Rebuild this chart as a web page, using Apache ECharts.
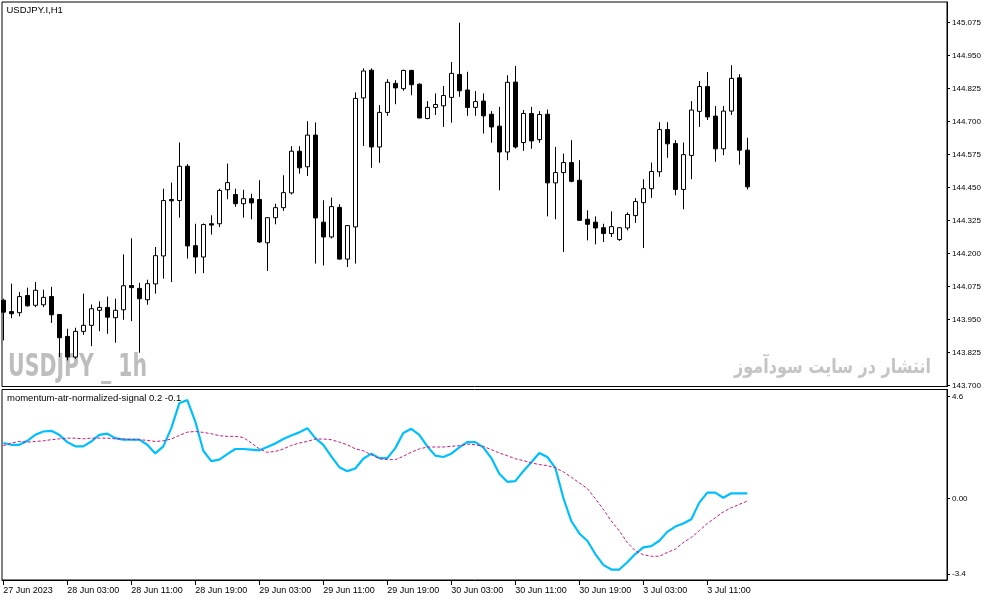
<!DOCTYPE html>
<html>
<head>
<meta charset="utf-8">
<script src="https://cdn.jsdelivr.net/npm/echarts@6.0.0/dist/echarts.min.js"></script>
<style>
html, body { margin: 0; padding: 0; background: #fff; }
#chart { width: 993px; height: 601px; }
</style>
</head>
<body>
<div id="chart"></div>
<script>
// USDJPY.I H1 candles, index 0 = 27 Jun 2023 19:00
var openP = [144.023,143.980,143.976,144.041,144.004,144.006,144.037,143.969,143.886,143.808,
	143.905,143.928,143.985,143.996,143.957,143.987,144.079,144.068,144.025,144.085,
	144.191,144.405,144.401,144.531,144.230,144.187,144.313,144.313,144.442,144.424,
	144.389,144.408,144.405,144.241,144.336,144.374,144.430,144.588,144.529,144.649,
	144.319,144.263,144.375,144.179,144.301,144.790,144.895,144.604,144.735,144.845,
	144.825,144.894,144.842,144.712,144.754,144.760,144.792,144.879,144.820,144.754,
	144.778,144.728,144.683,144.585,144.850,144.621,144.731,144.632,144.728,144.468,
	144.507,144.545,144.478,144.330,144.319,144.298,144.276,144.253,144.297,144.344,
	144.393,144.446,144.510,144.670,144.617,144.443,144.572,144.739,144.833,144.721,
	144.597,144.740,144.866,144.592];
var closeP = [143.978,143.972,144.037,144.002,144.061,144.034,143.968,143.881,143.808,143.905,
	143.928,143.991,143.996,143.959,143.985,144.078,144.071,144.029,144.086,144.192,
	144.401,144.400,144.531,144.229,144.187,144.310,144.308,144.439,144.469,144.389,
	144.408,144.392,144.244,144.336,144.374,144.431,144.588,144.525,144.649,144.335,
	144.263,144.378,144.179,144.306,144.788,144.892,144.604,144.735,144.849,144.828,
	144.894,144.840,144.714,144.754,144.765,144.799,144.883,144.817,144.754,144.776,
	144.722,144.680,144.585,144.849,144.604,144.731,144.627,144.727,144.468,144.507,
	144.545,144.474,144.326,144.311,144.297,144.276,144.302,144.298,144.348,144.397,
	144.446,144.511,144.670,144.616,144.443,144.575,144.744,144.833,144.718,144.597,
	144.740,144.864,144.592,144.453];
var lowP = [143.871,143.955,143.962,143.999,143.997,143.997,143.937,143.808,143.795,143.801,
	143.892,143.849,143.906,143.896,143.862,143.949,143.944,143.824,144.006,144.048,
	144.105,144.092,144.336,144.181,144.124,144.126,144.272,144.301,144.406,144.377,
	144.336,144.330,144.240,144.134,144.311,144.362,144.424,144.503,144.494,144.162,
	144.155,144.257,144.177,144.149,144.162,144.608,144.525,144.544,144.722,144.766,
	144.817,144.800,144.712,144.709,144.725,144.680,144.696,144.794,144.722,144.722,
	144.655,144.620,144.440,144.554,144.598,144.589,144.597,144.620,144.341,144.330,
	144.206,144.470,144.324,144.250,144.235,144.244,144.263,144.248,144.288,144.316,
	144.221,144.411,144.491,144.563,144.421,144.368,144.482,144.680,144.706,144.548,
	144.573,144.725,144.537,144.443];
var highP = [144.029,144.086,144.054,144.071,144.092,144.063,144.074,143.970,143.915,143.919,
	144.048,144.007,144.019,144.037,144.029,144.197,144.258,144.089,144.101,144.225,
	144.446,144.469,144.621,144.539,144.313,144.314,144.345,144.446,144.541,144.446,
	144.442,144.427,144.478,144.338,144.389,144.497,144.607,144.607,144.702,144.697,
	144.402,144.412,144.387,144.308,144.811,144.902,144.902,144.763,144.861,144.857,
	144.897,144.897,144.845,144.778,144.807,144.835,144.926,145.075,144.889,144.816,
	144.807,144.740,144.756,144.876,144.911,144.744,144.756,144.740,144.746,144.604,
	144.579,144.630,144.554,144.364,144.341,144.313,144.360,144.300,144.356,144.410,
	144.482,144.545,144.698,144.698,144.630,144.621,144.778,144.854,144.888,144.759,
	144.759,144.914,144.880,144.639];

// momentum-atr-normalized-signal (blue) and its signal (dotted)
var momentum = [2.51,2.43,2.43,2.61,2.88,3.03,3.06,2.88,2.55,2.36,
	2.36,2.58,2.88,2.93,2.73,2.66,2.66,2.66,2.43,2.04,
	2.36,3.18,4.30,4.45,3.48,2.16,1.69,1.76,2.01,2.24,
	2.24,2.21,2.18,2.33,2.49,2.69,2.85,2.99,3.18,2.73,
	2.43,1.91,1.42,1.24,1.36,1.80,2.03,1.83,1.83,2.28,
	2.96,3.15,2.88,2.36,1.94,1.88,2.03,2.31,2.55,2.55,
	2.31,1.83,1.12,0.76,0.79,1.24,1.64,2.06,1.88,1.39,
	0.04,-1.01,-1.57,-1.90,-2.50,-2.99,-3.20,-3.20,-2.87,-2.50,
	-2.20,-2.14,-1.90,-1.50,-1.26,-1.12,-0.93,-0.18,0.27,0.27,
	0.04,0.24,0.24,0.24];
var signal = [2.39,2.51,2.58,2.55,2.58,2.61,2.66,2.70,2.73,2.73,
	2.70,2.73,2.73,2.73,2.70,2.69,2.66,2.66,2.63,2.58,
	2.61,2.69,2.85,3.00,3.03,2.99,2.93,2.84,2.81,2.81,
	2.76,2.51,2.25,2.09,2.13,2.24,2.40,2.51,2.58,2.69,
	2.69,2.66,2.55,2.43,2.25,2.16,1.98,1.80,1.76,1.76,
	1.91,2.10,2.24,2.33,2.33,2.33,2.36,2.39,2.46,2.43,
	2.36,2.21,2.06,1.94,1.80,1.72,1.61,1.54,1.49,1.39,
	1.21,0.97,0.71,0.46,0.00,-0.48,-1.01,-1.45,-1.98,-2.35,
	-2.53,-2.60,-2.60,-2.43,-2.28,-1.98,-1.75,-1.45,-1.12,-0.86,
	-0.60,-0.41,-0.26,-0.11];

// x axis labels sit on every 8th bar
var xLabelIdx = [0, 8, 16, 24, 32, 40, 48, 56, 64, 72, 80, 88];
var xLabels = ['27 Jun 2023', '28 Jun 03:00', '28 Jun 11:00', '28 Jun 19:00', '29 Jun 03:00',
	'29 Jun 11:00', '29 Jun 19:00', '30 Jun 03:00', '30 Jun 11:00', '30 Jun 19:00',
	'3 Jul 03:00', '3 Jul 11:00'];
var priceTicks = [143.700, 143.825, 143.950, 144.075, 144.200, 144.325, 144.450,
	144.575, 144.700, 144.825, 144.950, 145.075];
var indTicks = [-3.4, 0, 4.6];
var indTickLabels = ['-3.4', '0.00', '4.6'];

var candles = [];
for (var i = 0; i < openP.length; i++) {
	candles.push([i, openP[i], closeP[i], lowP[i], highP[i]]);
}
var momLine = [], sigLine = [];
for (var j = 0; j < momentum.length; j++) {
	momLine.push([j, momentum[j]]);
	sigLine.push([j, signal[j]]);
}

var labelFont = "'Liberation Sans', Arial, sans-serif";

// 8px per bar, bar 0 centred at x=3.3
var xMin = -0.1625, xMax = -0.1625 + 945 / 8;

var myChart = echarts.init(document.getElementById('chart'), null, { renderer: 'canvas' });
var option = {
	animation: false,
	backgroundColor: '#fff',
	title: [{
		text: 'USDJPY.I,H1',
		left: 6.5, top: 5, padding: 0,
		textStyle: { fontSize: 9.5, fontWeight: 'normal', color: '#000', fontFamily: labelFont }
	}, {
		text: 'momentum-atr-normalized-signal 0.2 -0.1',
		left: 7, top: 393.5, padding: 0,
		textStyle: { fontSize: 9.5, fontWeight: 'normal', color: '#000', fontFamily: labelFont }
	}],
	graphic: [{
		type: 'text', x: 8, y: 368, scaleX: 0.64, silent: true, z: 0,
		style: {
			text: 'USDJPY _ 1h', fill: '#bdbdbd', textVerticalAlign: 'middle',
			fontSize: 32, fontWeight: 'bold', fontFamily: 'DejaVu Sans'
		}
	}, {
		type: 'text', x: 931, y: 368, scaleX: 0.8, silent: true, z: 0,
		style: {
			text: 'انتشار در سایت سودآموز', fill: '#c4c4c4', textAlign: 'right', textVerticalAlign: 'middle',
			fontSize: 20, fontWeight: 'bold', fontFamily: 'DejaVu Sans'
		}
	}],
	grid: [{
		left: 2, top: 2, width: 945, height: 384.5,
		show: true, borderColor: '#000', borderWidth: 1
	}, {
		left: 2, top: 389.5, width: 945, height: 190.5,
		show: true, borderColor: '#000', borderWidth: 1
	}],
	xAxis: [{
		type: 'value', gridIndex: 0, min: xMin, max: xMax,
		axisLine: { show: false, onZero: false }, axisTick: { show: false },
		axisLabel: { show: false }, splitLine: { show: false }
	}, {
		type: 'value', gridIndex: 1, min: xMin, max: xMax, position: 'bottom',
		axisLine: { show: true, onZero: false, lineStyle: { color: '#000', width: 1 } },
		axisTick: { show: true, length: 5, customValues: xLabelIdx, lineStyle: { color: '#000' } },
		axisLabel: {
			show: true, customValues: xLabelIdx, align: 'left', margin: 6,
			fontSize: 9, color: '#000', fontFamily: labelFont,
			formatter: function(v) {
				return xLabels[xLabelIdx.indexOf(Math.round(v))];
			}
		},
		splitLine: { show: false }
	}],
	yAxis: [{
		type: 'value', gridIndex: 0, position: 'right',
		min: 143.6962, max: 145.1535,
		axisLine: { show: true, onZero: false, lineStyle: { color: '#000', width: 1 } },
		axisTick: { show: true, length: 3, customValues: priceTicks, lineStyle: { color: '#000' } },
		axisLabel: {
			customValues: priceTicks, margin: 5, fontSize: 8, color: '#000', fontFamily: labelFont,
			formatter: function(v) { return v.toFixed(3); }
		},
		splitLine: { show: false }
	}, {
		type: 'value', gridIndex: 1, position: 'right',
		min: -3.671, max: 4.925,
		axisLine: { show: true, onZero: false, lineStyle: { color: '#000', width: 1 } },
		axisTick: { show: true, length: 3, customValues: indTicks, lineStyle: { color: '#000' } },
		axisLabel: {
			customValues: indTicks, margin: 5, fontSize: 8, color: '#000', fontFamily: labelFont,
			formatter: function(v) { return indTickLabels[indTicks.indexOf(v)]; }
		},
		splitLine: { show: false }
	}],
	series: [{
		name: 'USDJPY.I', type: 'candlestick',
		xAxisIndex: 0, yAxisIndex: 0,
		barWidth: 4,
		itemStyle: {
			color: '#fff', color0: '#000',
			borderColor: '#000', borderColor0: '#000', borderWidth: 1
		},
		data: candles
	}, {
		name: 'momentum', type: 'line',
		xAxisIndex: 1, yAxisIndex: 1,
		showSymbol: false, symbol: 'none',
		lineStyle: { color: '#00bfff', width: 2.2 },
		data: momLine
	}, {
		name: 'signal', type: 'line',
		xAxisIndex: 1, yAxisIndex: 1,
		showSymbol: false, symbol: 'none',
		lineStyle: { color: '#c71585', width: 1, type: [3, 2] },
		data: sigLine
	}]
};
myChart.setOption(option);
</script>
</body>
</html>
